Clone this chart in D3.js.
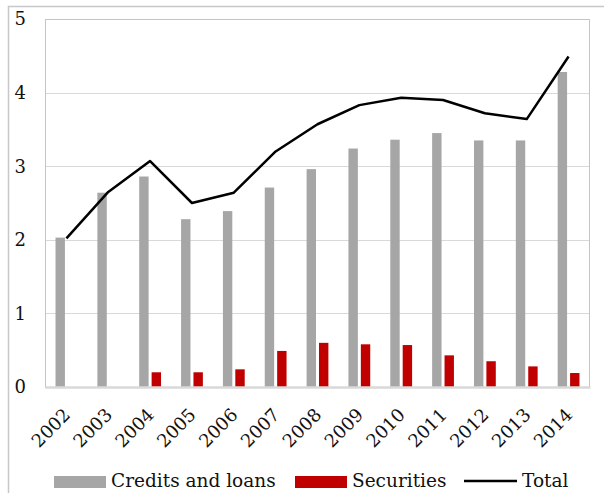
<!DOCTYPE html>
<html>
<head>
<meta charset="utf-8">
<script src="https://cdn.jsdelivr.net/npm/d3@7"></script>
<style>
  html, body { margin: 0; padding: 0; background: #fff; }
  svg { display: block; }
  text { font-family: "DejaVu Serif", serif; fill: #111; }
</style>
</head>
<body>
<div id="chart"></div>
<script>
var years = ['2002', '2003', '2004', '2005', '2006', '2007', '2008', '2009', '2010', '2011', '2012', '2013', '2014'];
var loans = [2.03, 2.64, 2.86, 2.28, 2.39, 2.71, 2.96, 3.24, 3.36, 3.45, 3.35, 3.35, 4.28];
var securities = [0, 0, 0.20, 0.20, 0.24, 0.49, 0.60, 0.58, 0.57, 0.43, 0.35, 0.28, 0.19];
var total = [2.02, 2.65, 3.07, 2.50, 2.64, 3.20, 3.57, 3.83, 3.93, 3.90, 3.72, 3.64, 4.49];
var yTicks = [0, 1, 2, 3, 4, 5];

var width = 604,
    height = 493,
    plotLeft = 45.5,
    plotRight = 589.5,
    plotTop = 19,
    plotBottom = 387,
    barW = 9.4,
    gap = 3;

var svg = d3.select('#chart').append('svg')
    .attr('width', width)
    .attr('height', height);

// outer frame
svg.append('path')
    .attr('d', 'M8.5,' + height + 'V6.5H' + width)
    .attr('fill', 'none')
    .attr('stroke', '#c8c8c8')
    .attr('stroke-width', 1.5);

var x = d3.scaleBand().domain(years).range([plotLeft, plotRight]).padding(0);
var y = d3.scaleLinear().domain([0, 5]).range([plotBottom, plotTop]);
var cx = function(d) { return x(d) + x.bandwidth() / 2; };

// gridlines
svg.append('g')
    .selectAll('line')
    .data(yTicks.slice(1))
    .enter().append('line')
    .attr('x1', plotLeft).attr('x2', plotRight)
    .attr('y1', function(d) { return Math.round(y(d)) + 0.5; })
    .attr('y2', function(d) { return Math.round(y(d)) + 0.5; })
    .attr('stroke', '#d9d9d9');

// plot area border
svg.append('rect')
    .attr('x', plotLeft).attr('y', plotTop + 0.5)
    .attr('width', plotRight - plotLeft).attr('height', plotBottom - plotTop)
    .attr('fill', 'none')
    .attr('stroke', '#c4c4c4');

// y labels
svg.append('g')
    .selectAll('text')
    .data(yTicks)
    .enter().append('text')
    .attr('x', 26)
    .attr('y', function(d) { return y(d); })
    .attr('dy', '0.36em')
    .attr('text-anchor', 'end')
    .style('font-size', '18px')
    .text(function(d) { return d; });

// bars
svg.append('g')
    .selectAll('rect')
    .data(years)
    .enter().append('rect')
    .attr('x', function(d) { return cx(d) - gap / 2 - barW; })
    .attr('y', function(d, i) { return y(loans[i]); })
    .attr('width', barW)
    .attr('height', function(d, i) { return y(0) - y(loans[i]); })
    .attr('fill', '#a6a6a6');

svg.append('g')
    .selectAll('rect')
    .data(years)
    .enter().append('rect')
    .attr('x', function(d) { return cx(d) + gap / 2; })
    .attr('y', function(d, i) { return y(securities[i]); })
    .attr('width', barW)
    .attr('height', function(d, i) { return y(0) - y(securities[i]); })
    .attr('fill', '#c00000');

// x axis line
svg.append('line')
    .attr('x1', plotLeft).attr('x2', plotRight + 1)
    .attr('y1', plotBottom + 0.5).attr('y2', plotBottom + 0.5)
    .attr('stroke', '#d9d9d9')
    .attr('stroke-width', 2.5);

// total line
var line = d3.line()
    .x(function(d, i) { return cx(years[i]); })
    .y(function(d) { return y(d); });

svg.append('path')
    .datum(total)
    .attr('d', line)
    .attr('fill', 'none')
    .attr('stroke', '#000')
    .attr('stroke-width', 2.5)
    .attr('stroke-linejoin', 'round');

// x labels
svg.append('g')
    .selectAll('text')
    .data(years)
    .enter().append('text')
    .attr('transform', function(d) {
        return 'translate(' + (cx(d) + 5) + ',' + 416 + ') rotate(-45)';
    })
    .attr('text-anchor', 'end')
    .style('font-size', '18px')
    .text(function(d) { return d; });

// legend
var legend = svg.append('g').style('font-size', '18.5px');

legend.append('rect').attr('x', 54).attr('y', 476).attr('width', 52).attr('height', 12).attr('fill', '#a6a6a6');
legend.append('text').attr('x', 111).attr('y', 487).text('Credits and loans');

legend.append('rect').attr('x', 295).attr('y', 476).attr('width', 52).attr('height', 12).attr('fill', '#c00000');
legend.append('text').attr('x', 352).attr('y', 487).text('Securities');

legend.append('line').attr('x1', 464).attr('x2', 517).attr('y1', 481).attr('y2', 481)
    .attr('stroke', '#000').attr('stroke-width', 2.5);
legend.append('text').attr('x', 522).attr('y', 487).text('Total');
</script>
</body>
</html>
